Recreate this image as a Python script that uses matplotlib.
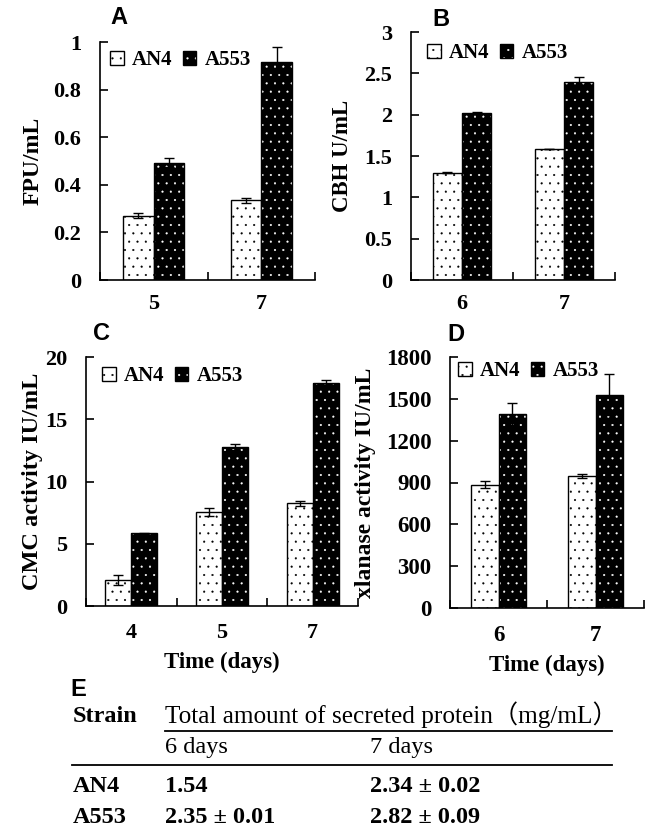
import matplotlib
matplotlib.use("Agg")
import matplotlib.pyplot as plt
import numpy as np
from matplotlib.patches import Patch
from matplotlib.lines import Line2D

plt.rcParams['hatch.linewidth'] = 0.3

# ---------------- data ----------------
series_names = ["AN4", "A553"]

a_days = ["5", "7"]
a_an4 = [0.27, 0.335]
a_an4_err = [0.01, 0.01]
a_a553 = [0.493, 0.915]
a_a553_err = [0.02, 0.065]
a_yticks = [0, 0.2, 0.4, 0.6, 0.8, 1.0]
a_yticklabels = ["0", "0.2", "0.4", "0.6", "0.8", "1"]

b_days = ["6", "7"]
b_an4 = [1.30, 1.585]
b_an4_err = [0.01, 0.0]
b_a553 = [2.02, 2.40]
b_a553_err = [0.01, 0.05]
b_yticks = [0, 0.5, 1.0, 1.5, 2.0, 2.5, 3.0]
b_yticklabels = ["0", "0.5", "1", "1.5", "2", "2.5", "3"]

c_days = ["4", "5", "7"]
c_an4 = [2.1, 7.55, 8.25]
c_an4_err = [0.4, 0.3, 0.2]
c_a553 = [5.85, 12.77, 17.94]
c_a553_err = [0.05, 0.25, 0.2]
c_yticks = [0, 5, 10, 15, 20]
c_yticklabels = ["0", "5", "10", "15", "20"]

d_days = ["6", "7"]
d_an4 = [885, 945]
d_an4_err = [25, 15]
d_a553 = [1390, 1530]
d_a553_err = [80, 145]
d_yticks = [0, 300, 600, 900, 1200, 1500, 1800]
d_yticklabels = ["0", "300", "600", "900", "1200", "1500", "1800"]

table_header = ["Strain", "Total amount of secreted protein\uff08mg/mL\uff09"]
table_cols = ["6 days", "7 days"]
table_rows = ["AN4", "A553"]
table_vals = [["1.54", "2.34 \u00b1 0.02"], ["2.35 \u00b1 0.01", "2.82 \u00b1 0.09"]]

# ---------------- layout ----------------
W, H = 651, 830
fig = plt.figure(figsize=(W / 100, H / 100), dpi=100)

SERIF = ["Liberation Serif", "DejaVu Serif"]
SANS = ["Liberation Sans", "DejaVu Sans"]


def px_axes(l, r, t, b):
    return fig.add_axes([l / W, 1 - b / H, (r - l) / W, (b - t) / H])


def panel(ax, cats, an4, an4e, a553, a553e, yticks, yticklabels, ylabel,
          letter, letter_xy, leg_xy, ylab_x, xlabel=None, xpad=10, tick_fs=16,
          ylab_fs=16):
    n = len(cats)
    x = np.arange(n)
    w = 0.285
    ax.bar(x - w / 2, an4, w, facecolor="white", edgecolor="black",
           hatch="..", linewidth=1.0, zorder=2)
    ax.bar(x + w / 2, a553, w, facecolor="black", edgecolor="white",
           hatch="..", linewidth=0, zorder=2)
    ax.bar(x + w / 2, a553, w, facecolor="none", edgecolor="black",
           linewidth=1.0, zorder=3)
    ax.errorbar(x - w / 2, an4, yerr=an4e, fmt="none", ecolor="black",
                elinewidth=1.0, capsize=3.5, capthick=1.0, zorder=4)
    ax.errorbar(x + w / 2, a553, yerr=a553e, fmt="none", ecolor="black",
                elinewidth=1.0, capsize=3.5, capthick=1.0, zorder=4)
    ax.set_xlim(-0.5, n - 0.5)
    ax.set_ylim(yticks[0], yticks[-1])
    for s in ["top", "right"]:
        ax.spines[s].set_visible(False)
    for s in ["left", "bottom"]:
        ax.spines[s].set_linewidth(1.2)
        ax.spines[s].set_color("black")
    ax.set_xticks(x)
    ax.set_xticklabels(cats, fontfamily=SERIF, fontweight="bold", fontsize=tick_fs)
    ax.set_xticks(np.arange(n + 1) - 0.5, minor=True)
    ax.tick_params(axis="x", which="major", length=0, pad=xpad)
    ax.tick_params(axis="x", which="minor", direction="in", length=6, width=1.2)
    ax.set_yticks(yticks)
    ax.set_yticklabels(yticklabels, fontfamily=SERIF, fontweight="bold", fontsize=tick_fs)
    ax.tick_params(axis="y", direction="in", length=6, width=1.2, pad=13.5)
    ax.set_ylabel(ylabel, fontfamily=SERIF, fontweight="bold", fontsize=ylab_fs)
    pos = ax.get_position()
    ax.yaxis.set_label_coords((ylab_x / W - pos.x0) / pos.width, 0.5)
    ax.yaxis.label.set_va("center")
    if xlabel:
        ax.set_xlabel(xlabel, fontfamily=SERIF, fontweight="bold", fontsize=16.5,
                      labelpad=6.5)
    h1 = Patch(facecolor="white", edgecolor="black", hatch="..", linewidth=1.0)
    h2a = Patch(facecolor="black", edgecolor="white", hatch="..", linewidth=0)
    h2b = Patch(facecolor="none", edgecolor="black", linewidth=1.0)
    pos = ax.get_position()
    bx = (leg_xy[0] / W - pos.x0) / pos.width
    by = ((1 - leg_xy[1] / H) - pos.y0) / pos.height
    ax.legend([h1, (h2a, h2b)], series_names, loc="center left",
              bbox_to_anchor=(bx, by), ncol=2, frameon=False, borderpad=0,
              borderaxespad=0, handlelength=0.65, handleheight=0.65,
              handletextpad=0.4, columnspacing=0.5,
              prop={"family": SERIF, "weight": "bold", "size": 15})
    fig.text(letter_xy[0] / W, 1 - letter_xy[1] / H, letter, ha="center",
             va="center", fontfamily=SANS, fontweight="bold", fontsize=17)


axA = px_axes(100, 315, 42, 280)
panel(axA, a_days, a_an4, a_an4_err, a_a553, a_a553_err, a_yticks, a_yticklabels,
      "FPU/mL", "A", (119, 18), (110, 60), 33, ylab_fs=17)

axB = px_axes(411, 615, 32, 280)
panel(axB, b_days, b_an4, b_an4_err, b_a553, b_a553_err, b_yticks, b_yticklabels,
      "CBH U/mL", "B", (441, 20), (427, 53), 343, ylab_fs=16.5)

axC = px_axes(86, 358, 357, 606)
panel(axC, c_days, c_an4, c_an4_err, c_a553, c_a553_err, c_yticks, c_yticklabels,
      "CMC activity IU/mL", "C", (101, 333), (102, 376), 33,
      xlabel="Time (days)", xpad=12, ylab_fs=17.5)

axD = px_axes(450, 644, 357, 608)
panel(axD, d_days, d_an4, d_an4_err, d_a553, d_a553_err, d_yticks, d_yticklabels,
      "xlanase activity IU/mL", "D", (456, 334), (458, 371), 366,
      xlabel="Time (days)", xpad=12, ylab_fs=17, tick_fs=16.5)

# ---------------- table E ----------------
fig.text(78 / W, 1 - 689 / H, "E", ha="center", va="center", fontfamily=SANS,
         fontweight="bold", fontsize=17)
TFAM = ["Liberation Serif", "Noto Sans CJK SC", "DejaVu Serif"]
TFS = 17.5


def ftext(xp, yp, s, bold=False, fs=TFS):
    fig.text(xp / W, 1 - yp / H, s, ha="left", va="center", fontfamily=TFAM,
             fontweight="bold" if bold else "normal", fontsize=fs)


ftext(73, 716, table_header[0], bold=True)
ftext(165, 715, table_header[1], fs=18.2)
ftext(165, 748, table_cols[0])
ftext(370, 748, table_cols[1])
row_y = [786, 817]
for i, r in enumerate(table_rows):
    ftext(73, row_y[i], r, bold=True)
    ftext(165, row_y[i], table_vals[i][0], bold=True)
    ftext(370, row_y[i], table_vals[i][1], bold=True)

fig.add_artist(Line2D([165 / W, 612 / W], [1 - 731 / H, 1 - 731 / H],
                      color="black", linewidth=1.3))
fig.add_artist(Line2D([72 / W, 612 / W], [1 - 765 / H, 1 - 765 / H],
                      color="black", linewidth=1.3))

fig.savefig("out.png", dpi=100)
